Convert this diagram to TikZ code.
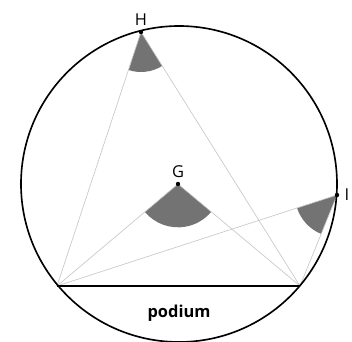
\documentclass[tikz,border=0pt]{standalone}
\usepackage{fontspec}
\setmainfont{Open Sans}
\usetikzlibrary{angles}
\tikzset{
  sight/.style={draw=black!22, line width=0.55pt},
  wedge/.style={draw=none, fill=black!55, angle radius=#1},
  ptlabel/.style={font=\fontsize{14}{16}\selectfont},
}

\begin{document}
\begin{tikzpicture}[x=0.03cm, y=-0.03cm]
        \useasboundingbox (0,0) rectangle (352,342);
        \coordinate (A) at (57,286);
        \coordinate (B) at (300,286);
        \coordinate (H) at (141,32);
        \coordinate (G) at (178,184);
        \coordinate (I) at (337,195);
        % angles
        \pic[wedge=1.2cm]{angle = A--H--B};
        \pic[wedge=1.3cm]{angle = A--G--B};
        \pic[wedge=1.26cm]{angle = A--I--B};
        % lines of sight
        \path[sight](H)--(A) (H)--(B);
        \path[sight](G)--(A) (G)--(B);
        \path[sight](I)--(A) (I)--(B);

        \draw[line width=1.4pt](179,184)circle[radius=158];
        \draw[line width=1.4pt](A)--(B);
        \foreach \p in {H,G,I} \fill(\p)circle[radius=2.2];

        \node[ptlabel, above=2pt] (Hl) at (H) {H};
        \node[ptlabel, above=2pt] (Gl) at (G) {G};
        \node[ptlabel, right=3pt] (Il) at (I) {I};
        \node[font=\fontsize{14}{16}\selectfont\bfseries] (podium) at (179,313) {podium};
    \end{tikzpicture}
\end{document}
